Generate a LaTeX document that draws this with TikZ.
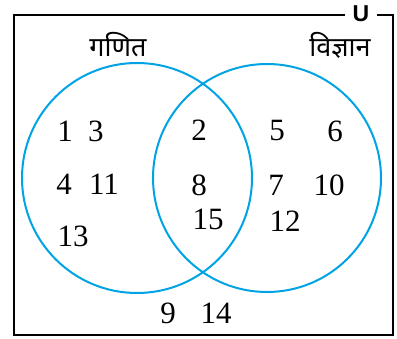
\documentclass[tikz,border=0pt]{standalone}
\usepackage{fontspec}
\setmainfont{Liberation Serif}
\newfontfamily\hindi[Script=Devanagari]{Noto Sans}
\newfontfamily\labelsans{Liberation Sans}
\usepackage{xcolor}
\definecolor{setblue}{RGB}{0,163,228}

\begin{document}
\begin{tikzpicture}[x=1pt, y=-1pt,
    num/.style={font=\fontsize{31}{31}\selectfont, inner sep=0pt},
    setname/.style={font=\hindi\fontsize{27}{27}\selectfont, inner sep=0pt},
    circ/.style={draw=setblue, line width=2pt}]
    \useasboundingbox (0,0) rectangle (397,339);

    % Universe
    \node[font=\labelsans\bfseries\fontsize{23}{23}\selectfont, inner sep=0pt] (U) at (361,14) {U};
    \coordinate (ul) at (14,15);
    \coordinate (lr) at (393,335);
    \draw[line width=2.6pt] ([xshift=-7pt]U.west |- ul) -- (ul) |- (lr) |- ([xshift=7pt]U.east |- ul);

    % Sets
    \draw[circ] (137,178) circle (115);
    \draw[circ] (267,178) circle (114);
    \node[setname] (maths) at (118,45) {गणित};
    \node[setname] (science) at (340,45) {विज्ञान};

    % Only maths
    \node[num] (n1) at (65,131) {1};
    \node[num] (n3) at (96,131) {3};
    \node[num] (n4) at (64,184) {4};
    \node[num] (n11) at (104,184) {11};
    \node[num] (n13) at (73,236) {13};

    % Both
    \node[num] (n2) at (199,130) {2};
    \node[num] (n8) at (199,185) {8};
    \node[num] (n15) at (208,219) {15};

    % Only science
    \node[num] (n5) at (277,131) {5};
    \node[num] (n6) at (335,131) {6};
    \node[num] (n7) at (276,185) {7};
    \node[num] (n10) at (329,185) {10};
    \node[num] (n12) at (285,221) {12};

    % Neither
    \node[num] (n9) at (168,313) {9};
    \node[num] (n14) at (216,313) {14};
\end{tikzpicture}
\end{document}
